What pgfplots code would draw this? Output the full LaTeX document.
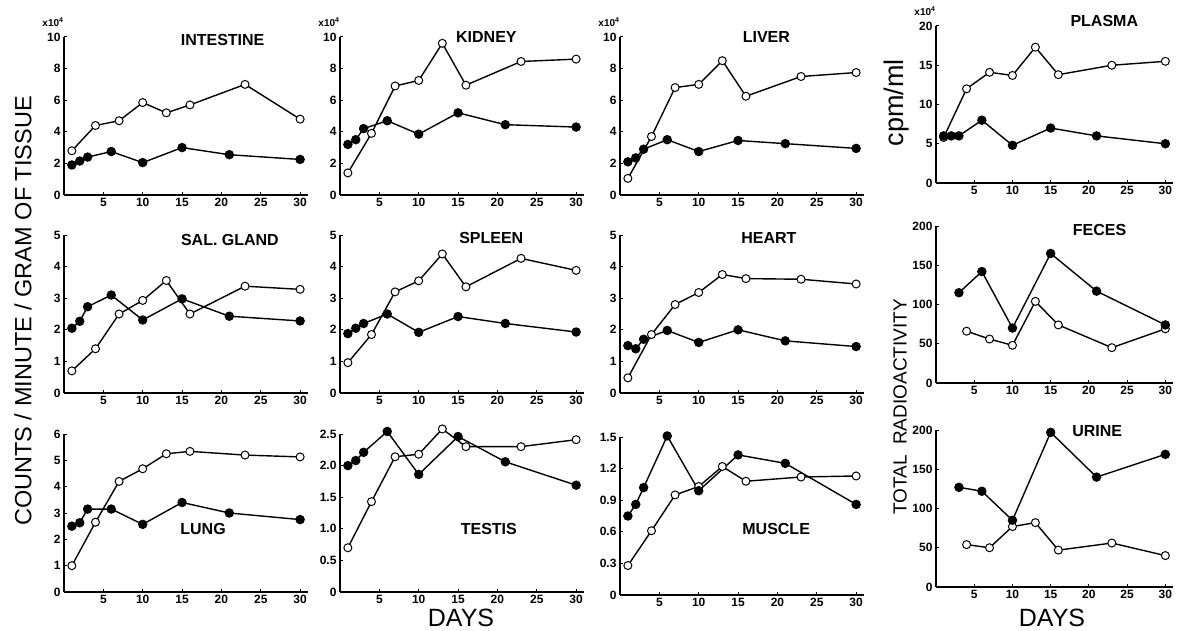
\documentclass[border=0pt]{standalone}
\usepackage{fontspec}
\setmainfont{Liberation Sans}
\usepackage{pgfplots}
\pgfplotsset{compat=1.18}

\pgfplotsset{
  panel/.style={scale only axis, anchor=south west, axis lines=left,
    axis line style={-, line width=1.3pt}, xmin=0, xmax=31, ymin=0,
    xtick={5,10,...,30}, tick style={black, line width=1pt},
    major tick length=3pt, tick align=inside, clip=false,
    tick label style={font=\fontsize{12}{12}\selectfont\bfseries},
    /pgf/number format/assume math mode=true},
  wide/.style={width=244pt, height=158pt},
  narrow/.style={width=237pt, height=157pt},
  open/.style={black, line width=1.4pt, mark=*, mark size=4pt,
    mark options={fill=white, line width=1pt}},
  full/.style={black, line width=1.4pt, mark=*, mark size=4pt,
    mark options={fill=black}},
}
\newcommand\ttl{\fontsize{16}{16}\selectfont\bfseries}
\newcommand\expo{\node[font=\fontsize{10}{10}\selectfont\bfseries] at (rel axis cs:0,1) [xshift=-11pt, yshift=15pt] {x10\textsuperscript{4}};}

\begin{document}
\begin{tikzpicture}
\path[use as bounding box, fill=white] (0,0) rectangle (1179pt,630pt);

% ---- row 1
\begin{axis}[panel, wide, at={(64pt,435pt)}, ymax=10, ytick={0,2,...,10}]
\addplot[open] coordinates {(1,2.8)(4,4.4)(7,4.7)(10,5.85)(13,5.2)(16,5.7)(23,7.0)(30,4.8)};
\addplot[full] coordinates {(1,1.9)(2,2.15)(3,2.4)(6,2.75)(10,2.05)(15,3.0)(21,2.55)(30,2.25)};
\node[font=\ttl] at (rel axis cs:0.65,0.98) {INTESTINE};
\expo
\end{axis}

\begin{axis}[panel, wide, at={(340pt,435pt)}, ymax=10, ytick={0,2,...,10}]
\addplot[open] coordinates {(1,1.4)(4,3.9)(7,6.9)(10,7.25)(13,9.6)(16,6.95)(23,8.45)(30,8.6)};
\addplot[full] coordinates {(1,3.2)(2,3.5)(3,4.2)(6,4.7)(10,3.85)(15,5.2)(21,4.45)(30,4.3)};
\node[font=\ttl] at (rel axis cs:0.6,1.0) {KIDNEY};
\expo
\end{axis}

\begin{axis}[panel, wide, at={(620pt,435pt)}, ymax=10, ytick={0,2,...,10}]
\addplot[open] coordinates {(1,1.05)(4,3.7)(7,6.8)(10,7.0)(13,8.5)(16,6.25)(23,7.5)(30,7.75)};
\addplot[full] coordinates {(1,2.1)(2,2.35)(3,2.9)(6,3.5)(10,2.75)(15,3.45)(21,3.25)(30,2.95)};
\node[font=\ttl] at (rel axis cs:0.6,1.0) {LIVER};
\expo
\end{axis}

\begin{axis}[panel, narrow, at={(936pt,447pt)}, ymax=20, ytick={0,5,...,20}]
\addplot[open] coordinates {(1,5.8)(4,12.0)(7,14.1)(10,13.7)(13,17.3)(16,13.8)(23,15.0)(30,15.5)};
\addplot[full] coordinates {(1,6.0)(2,6.0)(3,6.0)(6,8.0)(10,4.8)(15,7.0)(21,6.0)(30,5.0)};
\node[font=\ttl] at (rel axis cs:0.71,1.03) {PLASMA};
\expo
\end{axis}

% ---- row 2
\begin{axis}[panel, wide, at={(64pt,237pt)}, ymax=5, ytick={0,...,5}]
\addplot[open] coordinates {(1,0.7)(4,1.4)(7,2.5)(10,2.93)(13,3.56)(16,2.5)(23,3.38)(30,3.28)};
\addplot[full] coordinates {(1,2.05)(2,2.27)(3,2.73)(6,3.1)(10,2.31)(15,2.98)(21,2.43)(30,2.28)};
\node[font=\ttl] at (rel axis cs:0.68,0.97) {SAL. GLAND};
\end{axis}

\begin{axis}[panel, wide, at={(340pt,237pt)}, ymax=5, ytick={0,...,5}]
\addplot[open] coordinates {(1,0.96)(4,1.85)(7,3.2)(10,3.55)(13,4.4)(16,3.36)(23,4.26)(30,3.88)};
\addplot[full] coordinates {(1,1.88)(2,2.05)(3,2.2)(6,2.5)(10,1.92)(15,2.42)(21,2.2)(30,1.93)};
\node[font=\ttl] at (rel axis cs:0.62,0.98) {SPLEEN};
\end{axis}

\begin{axis}[panel, wide, at={(620pt,237pt)}, ymax=5, ytick={0,...,5}]
\addplot[open] coordinates {(1,0.48)(4,1.85)(7,2.8)(10,3.18)(13,3.75)(16,3.62)(23,3.6)(30,3.45)};
\addplot[full] coordinates {(1,1.5)(2,1.4)(3,1.7)(6,1.98)(10,1.6)(15,2.0)(21,1.65)(30,1.47)};
\node[font=\ttl] at (rel axis cs:0.61,0.98) {HEART};
\end{axis}

\begin{axis}[panel, narrow, at={(936pt,247pt)}, ymax=200, ytick={0,50,...,200}]
\addplot[open] coordinates {(4,66)(7,56)(10,48)(13,104)(16,74)(23,45)(30,69)};
\addplot[full] coordinates {(3,115)(6,142)(10,70)(15,165)(21,117)(30,74)};
\node[font=\ttl] at (rel axis cs:0.69,0.975) {FECES};
\end{axis}

% ---- row 3
\begin{axis}[panel, wide, at={(64pt,38pt)}, ymax=6, ytick={0,...,6}]
\addplot[open] coordinates {(1,1.0)(4,2.65)(7,4.2)(10,4.68)(13,5.25)(16,5.34)(23,5.2)(30,5.13)};
\addplot[full] coordinates {(1,2.5)(2,2.63)(3,3.15)(6,3.15)(10,2.57)(15,3.4)(21,3.0)(30,2.75)};
\node[font=\ttl] at (rel axis cs:0.57,0.40) {LUNG};
\end{axis}

\begin{axis}[panel, wide, at={(340pt,38pt)}, ymax=2.5, ytick={0,0.5,...,2.5},
  yticklabels={0,0.5,1.0,1.5,2.0,2.5}]
\addplot[open] coordinates {(1,0.7)(4,1.43)(7,2.14)(10,2.18)(13,2.58)(16,2.3)(23,2.3)(30,2.41)};
\addplot[full] coordinates {(1,2.0)(2,2.08)(3,2.21)(6,2.54)(10,1.86)(15,2.46)(21,2.06)(30,1.69)};
\node[font=\ttl] at (rel axis cs:0.61,0.40) {TESTIS};
\end{axis}

\begin{axis}[panel, wide, at={(620pt,35pt)}, ymax=1.5, ytick={0,0.3,0.6,0.9,1.2,1.5},
  yticklabels={0,0.3,0.6,0.9,1.2,1.5}]
\addplot[open] coordinates {(1,0.28)(4,0.61)(7,0.95)(10,1.03)(13,1.22)(16,1.08)(23,1.12)(30,1.13)};
\addplot[full] coordinates {(1,0.75)(2,0.86)(3,1.02)(6,1.51)(10,0.99)(15,1.33)(21,1.25)(30,0.86)};
\node[font=\ttl] at (rel axis cs:0.64,0.42) {MUSCLE};
\end{axis}

\begin{axis}[panel, narrow, at={(936pt,43pt)}, ymax=200, ytick={0,50,...,200}]
\addplot[open] coordinates {(4,54)(7,50)(10,77)(13,82)(16,47)(23,56)(30,40)};
\addplot[full] coordinates {(3,127)(6,122)(10,85)(15,197)(21,140)(30,169)};
\node[font=\ttl] at (rel axis cs:0.68,0.99) {URINE};
\end{axis}

% ---- shared labels
\node[rotate=90, font=\fontsize{23.5}{23.5}\selectfont] at (23pt,319pt) {COUNTS / MINUTE / GRAM OF TISSUE};
\node[font=\fontsize{25}{25}\selectfont] at (461pt,12pt) {DAYS};
\node[font=\fontsize{25}{25}\selectfont] at (1052pt,12pt) {DAYS};
\node[rotate=90, font=\fontsize{27}{27}\selectfont] at (897pt,527pt) {cpm/ml};
\node[rotate=90, font=\fontsize{19}{19}\selectfont] at (900pt,223pt) {TOTAL\ \ RADIOACTIVITY};
\end{tikzpicture}
\end{document}
